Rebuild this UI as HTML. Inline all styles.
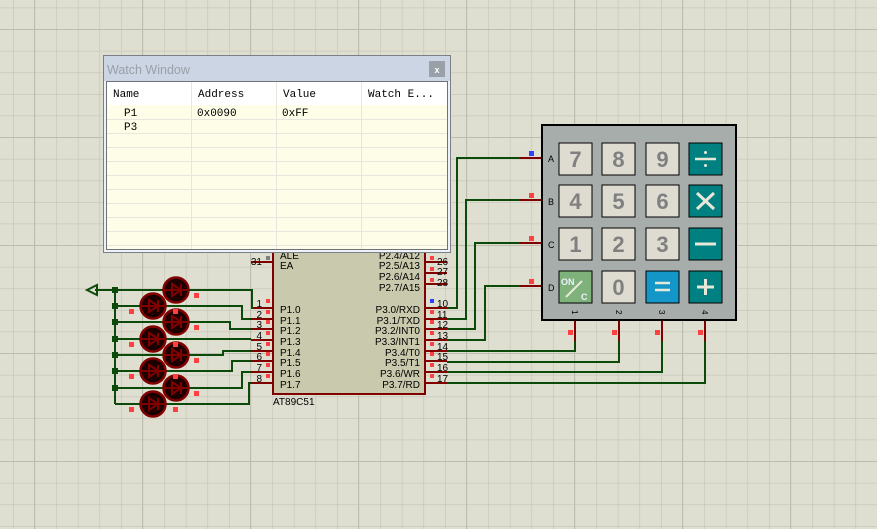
<!DOCTYPE html>
<html><head><meta charset="utf-8"><style>
html,body{margin:0;padding:0;width:877px;height:529px;overflow:hidden;background:#dfdfd1}
svg{position:absolute;left:0;top:0}
text{font-family:"Liberation Sans",sans-serif}
.m{font-family:"Liberation Mono",monospace}
</style></head><body>
<svg width="877" height="529" viewBox="0 0 877 529">
<defs>
<pattern id="g" x="13" y="7.6" width="21.6" height="21.6" patternUnits="userSpaceOnUse">
<path d="M0 0V21.6M0 0H21.6" stroke="#c4c4b6" stroke-width="1.2" fill="none"/>
</pattern>
<pattern id="G" x="34" y="29" width="108" height="108" patternUnits="userSpaceOnUse">
<path d="M0 0V108M0 0H108" stroke="#bdbdae" stroke-width="2" fill="none"/>
</pattern>
<g id="led">
<circle r="12.5" fill="#1c0000" stroke="#800000" stroke-width="2.5"/>
<path d="M-12 0H12M-4 -6L5 0L-4 6ZM5 -6V6" stroke="#800000" stroke-width="2" fill="none"/>
</g>
</defs>
<rect width="877" height="529" fill="url(#g)"/>
<rect width="877" height="529" fill="url(#G)"/>

<!-- chip -->
<rect x="273" y="245" width="152" height="149" fill="#c9c9ad" stroke="#800000" stroke-width="2"/>
<g stroke="#800000" stroke-width="2">
<path d="M251 262H273M251 308H273M251 319H273M251 329H273M251 340H273M251 351H273M251 361H273M251 372H273M251 383H273"/>
<path d="M425 262H447M425 273H447M425 284H447M425 308H447M425 319H447M425 329H447M425 340H447M425 351H447M425 361H447M425 372H447M425 383H447"/>
</g>
<g font-size="10" fill="#000">
<text x="280" y="259">ALE</text><text x="280" y="269">EA</text>
<text x="280" y="313">P1.0</text><text x="280" y="324">P1.1</text><text x="280" y="334">P1.2</text><text x="280" y="345">P1.3</text><text x="280" y="356">P1.4</text><text x="280" y="366">P1.5</text><text x="280" y="377">P1.6</text><text x="280" y="388">P1.7</text>
<g text-anchor="end"><text x="420" y="259">P2.4/A12</text><text x="420" y="269">P2.5/A13</text><text x="420" y="280">P2.6/A14</text><text x="420" y="291">P2.7/A15</text>
<text x="420" y="313">P3.0/RXD</text><text x="420" y="324">P3.1/TXD</text><text x="420" y="334">P3.2/INT0</text><text x="420" y="345">P3.3/INT1</text><text x="420" y="356">P3.4/T0</text><text x="420" y="366">P3.5/T1</text><text x="420" y="377">P3.6/WR</text><text x="420" y="388">P3.7/RD</text></g>
<text x="273" y="405">AT89C51</text>
<g text-anchor="end"><text x="262" y="265">31</text><text x="262" y="307">1</text><text x="262" y="318">2</text><text x="262" y="328">3</text><text x="262" y="339">4</text><text x="262" y="350">5</text><text x="262" y="360">6</text><text x="262" y="371">7</text><text x="262" y="382">8</text></g>
<text x="437" y="265">26</text><text x="437" y="275">27</text><text x="437" y="286">28</text><text x="437" y="307">10</text><text x="437" y="318">11</text><text x="437" y="328">12</text><text x="437" y="339">13</text><text x="437" y="350">14</text><text x="437" y="360">15</text><text x="437" y="371">16</text><text x="437" y="382">17</text>
</g>
<g fill="#ff4040">
<rect x="266" y="299" width="4" height="4"/><rect x="266" y="310" width="4" height="4"/><rect x="266" y="320" width="4" height="4"/><rect x="266" y="331" width="4" height="4"/><rect x="266" y="342" width="4" height="4"/><rect x="266" y="352" width="4" height="4"/><rect x="266" y="363" width="4" height="4"/><rect x="266" y="374" width="4" height="4"/>
<rect x="430" y="256" width="4" height="4"/><rect x="430" y="267" width="4" height="4"/><rect x="430" y="278" width="4" height="4"/><rect x="430" y="310" width="4" height="4"/><rect x="430" y="320" width="4" height="4"/><rect x="430" y="331" width="4" height="4"/><rect x="430" y="342" width="4" height="4"/><rect x="430" y="352" width="4" height="4"/><rect x="430" y="363" width="4" height="4"/><rect x="430" y="374" width="4" height="4"/>
</g>
<rect x="430" y="299" width="4" height="4" fill="#3040ff"/>
<rect x="266" y="256" width="4" height="4" fill="#808080"/>

<!-- wires -->
<g stroke="#0b4a0b" stroke-width="2" fill="none">
<path d="M447 308H457V158H520M447 319H466V200H520M447 329H475V243H520M447 340H485V286H520"/>
<path d="M447 351H575V341M447 362H619V341M447 372H662V341M447 383H705V341"/>
<path d="M95 290H252V308H251M115 290V404"/>
<path d="M115 306H242V319H251M115 322H230V329H251M115 339H251M115 355H223V351H251M115 371H232V361H251M115 388H242V372H251M115 404H249V383H251"/>
<path d="M87 290L97 285V295Z"/>
</g>
<g fill="#0b4a0b"><rect x="112" y="287" width="6" height="6"/><rect x="112" y="303" width="6" height="6"/><rect x="112" y="319" width="6" height="6"/><rect x="112" y="336" width="6" height="6"/><rect x="112" y="352" width="6" height="6"/><rect x="112" y="368" width="6" height="6"/><rect x="112" y="385" width="6" height="6"/></g>
<use href="#led" x="176" y="290"/><use href="#led" x="153" y="306"/><use href="#led" x="176" y="322"/><use href="#led" x="153" y="339"/><use href="#led" x="176" y="355"/><use href="#led" x="153" y="371"/><use href="#led" x="176" y="388"/><use href="#led" x="153" y="404"/>
<g fill="#ff4040"><rect x="194" y="293" width="5" height="5"/><rect x="129" y="309" width="5" height="5"/><rect x="194" y="325" width="5" height="5"/><rect x="129" y="342" width="5" height="5"/><rect x="194" y="358" width="5" height="5"/><rect x="129" y="374" width="5" height="5"/><rect x="194" y="391" width="5" height="5"/><rect x="129" y="407" width="5" height="5"/><rect x="173" y="407" width="5" height="5"/><rect x="173" y="374" width="5" height="5"/><rect x="173" y="342" width="5" height="5"/><rect x="173" y="309" width="5" height="5"/></g>

<!-- keypad -->
<g stroke="#800000" stroke-width="2"><path d="M520 158H541M520 200H541M520 243H541M520 286H541M575 320V341M619 320V341M662 320V341M705 320V341"/></g>
<rect x="542" y="125" width="194" height="195" fill="#a7adab" stroke="#000" stroke-width="2"/>
<rect x="529" y="151" width="5" height="5" fill="#3040ff"/>
<g fill="#ff4040"><rect x="529" y="193" width="5" height="5"/><rect x="529" y="236" width="5" height="5"/><rect x="529" y="279" width="5" height="5"/><rect x="568" y="330" width="5" height="5"/><rect x="612" y="330" width="5" height="5"/><rect x="655" y="330" width="5" height="5"/><rect x="698" y="330" width="5" height="5"/></g>
<g font-size="9" fill="#000"><text x="548" y="162">A</text><text x="548" y="205">B</text><text x="548" y="248">C</text><text x="548" y="291">D</text></g>
<g font-size="8" fill="#000"><text transform="translate(572,310) rotate(90)">1</text><text transform="translate(616,310) rotate(90)">2</text><text transform="translate(659,310) rotate(90)">3</text><text transform="translate(702,310) rotate(90)">4</text></g>
<g stroke="#000" stroke-width="1" fill="#dedcd0">
<rect x="559" y="143" width="33" height="32"/><rect x="602" y="143" width="33" height="32"/><rect x="646" y="143" width="33" height="32"/>
<rect x="559" y="185" width="33" height="32"/><rect x="602" y="185" width="33" height="32"/><rect x="646" y="185" width="33" height="32"/>
<rect x="559" y="228" width="33" height="32"/><rect x="602" y="228" width="33" height="32"/><rect x="646" y="228" width="33" height="32"/>
<rect x="602" y="271" width="33" height="32"/>
<rect x="559" y="271" width="33" height="32" fill="#7fb27a"/>
<rect x="646" y="271" width="33" height="32" fill="#1596c8"/>
<rect x="689" y="143" width="33" height="32" fill="#008080"/><rect x="689" y="185" width="33" height="32" fill="#008080"/><rect x="689" y="228" width="33" height="32" fill="#008080"/><rect x="689" y="271" width="33" height="32" fill="#008080"/>
</g>
<g font-size="22" font-weight="bold" fill="#808080" text-anchor="middle">
<text x="575.5" y="167">7</text><text x="618.5" y="167">8</text><text x="662.5" y="167">9</text>
<text x="575.5" y="209">4</text><text x="618.5" y="209">5</text><text x="662.5" y="209">6</text>
<text x="575.5" y="252">1</text><text x="618.5" y="252">2</text><text x="662.5" y="252">3</text>
<text x="618.5" y="295">0</text>
</g>
<g stroke="#e8e8d8" stroke-width="2.5" fill="#e8e8d8">
<path d="M695 159H716" /><circle cx="705.5" cy="152.5" r="1.5" stroke="none"/><circle cx="705.5" cy="165.5" r="1.5" stroke="none"/>
<path d="M697 193L714 209M714 193L697 209" stroke-width="3"/>
<path d="M695 244H716" stroke-width="3"/>
<path d="M697 287H714M705.5 279V295" stroke-width="3"/>
<path d="M655 283H670M655 290H670" stroke-width="2.5"/>
<path d="M566 297L582 281" stroke-width="2"/>
</g>
<g font-size="9" font-weight="bold" fill="#eef"><text x="561" y="285">ON</text><text x="581" y="300">C</text></g>

<!-- watch window -->
<rect x="103.5" y="55.5" width="347" height="197" fill="#eef1f6" stroke="#7a7f88"/>
<rect x="104" y="56" width="346" height="25" fill="#cbd5e3"/>
<text x="107" y="74" font-size="12.5" fill="#9aa0a8">Watch Window</text>
<rect x="429" y="61" width="16" height="16" fill="#9aa0a8"/>
<text x="437" y="73" font-size="9" fill="#fff" text-anchor="middle" font-weight="bold">x</text>
<rect x="106.5" y="81.5" width="341" height="168" fill="#fefee8" stroke="#6e737a"/>
<rect x="107" y="82" width="340" height="23" fill="#fff"/>
<g stroke="#e6e6de" stroke-width="1">
<path d="M191.5 82V249M276.5 82V249M361.5 82V249"/>
<path d="M107 119.5H447M107 133.5H447M107 147.5H447M107 161.5H447M107 175.5H447M107 189.5H447M107 203.5H447M107 217.5H447M107 231.5H447M107 245.5H447"/>
</g>
<g font-size="11" fill="#000">
<text x="113" y="97" class="m">Name</text><text x="198" y="97" class="m">Address</text><text x="283" y="97" class="m">Value</text><text x="368" y="97" class="m">Watch E...</text>
<text x="124" y="116" class="m">P1</text><text x="197" y="116" class="m">0x0090</text><text x="282" y="116" class="m">0xFF</text>
<text x="124" y="130" class="m">P3</text>
</g>
</svg>
</body></html>
